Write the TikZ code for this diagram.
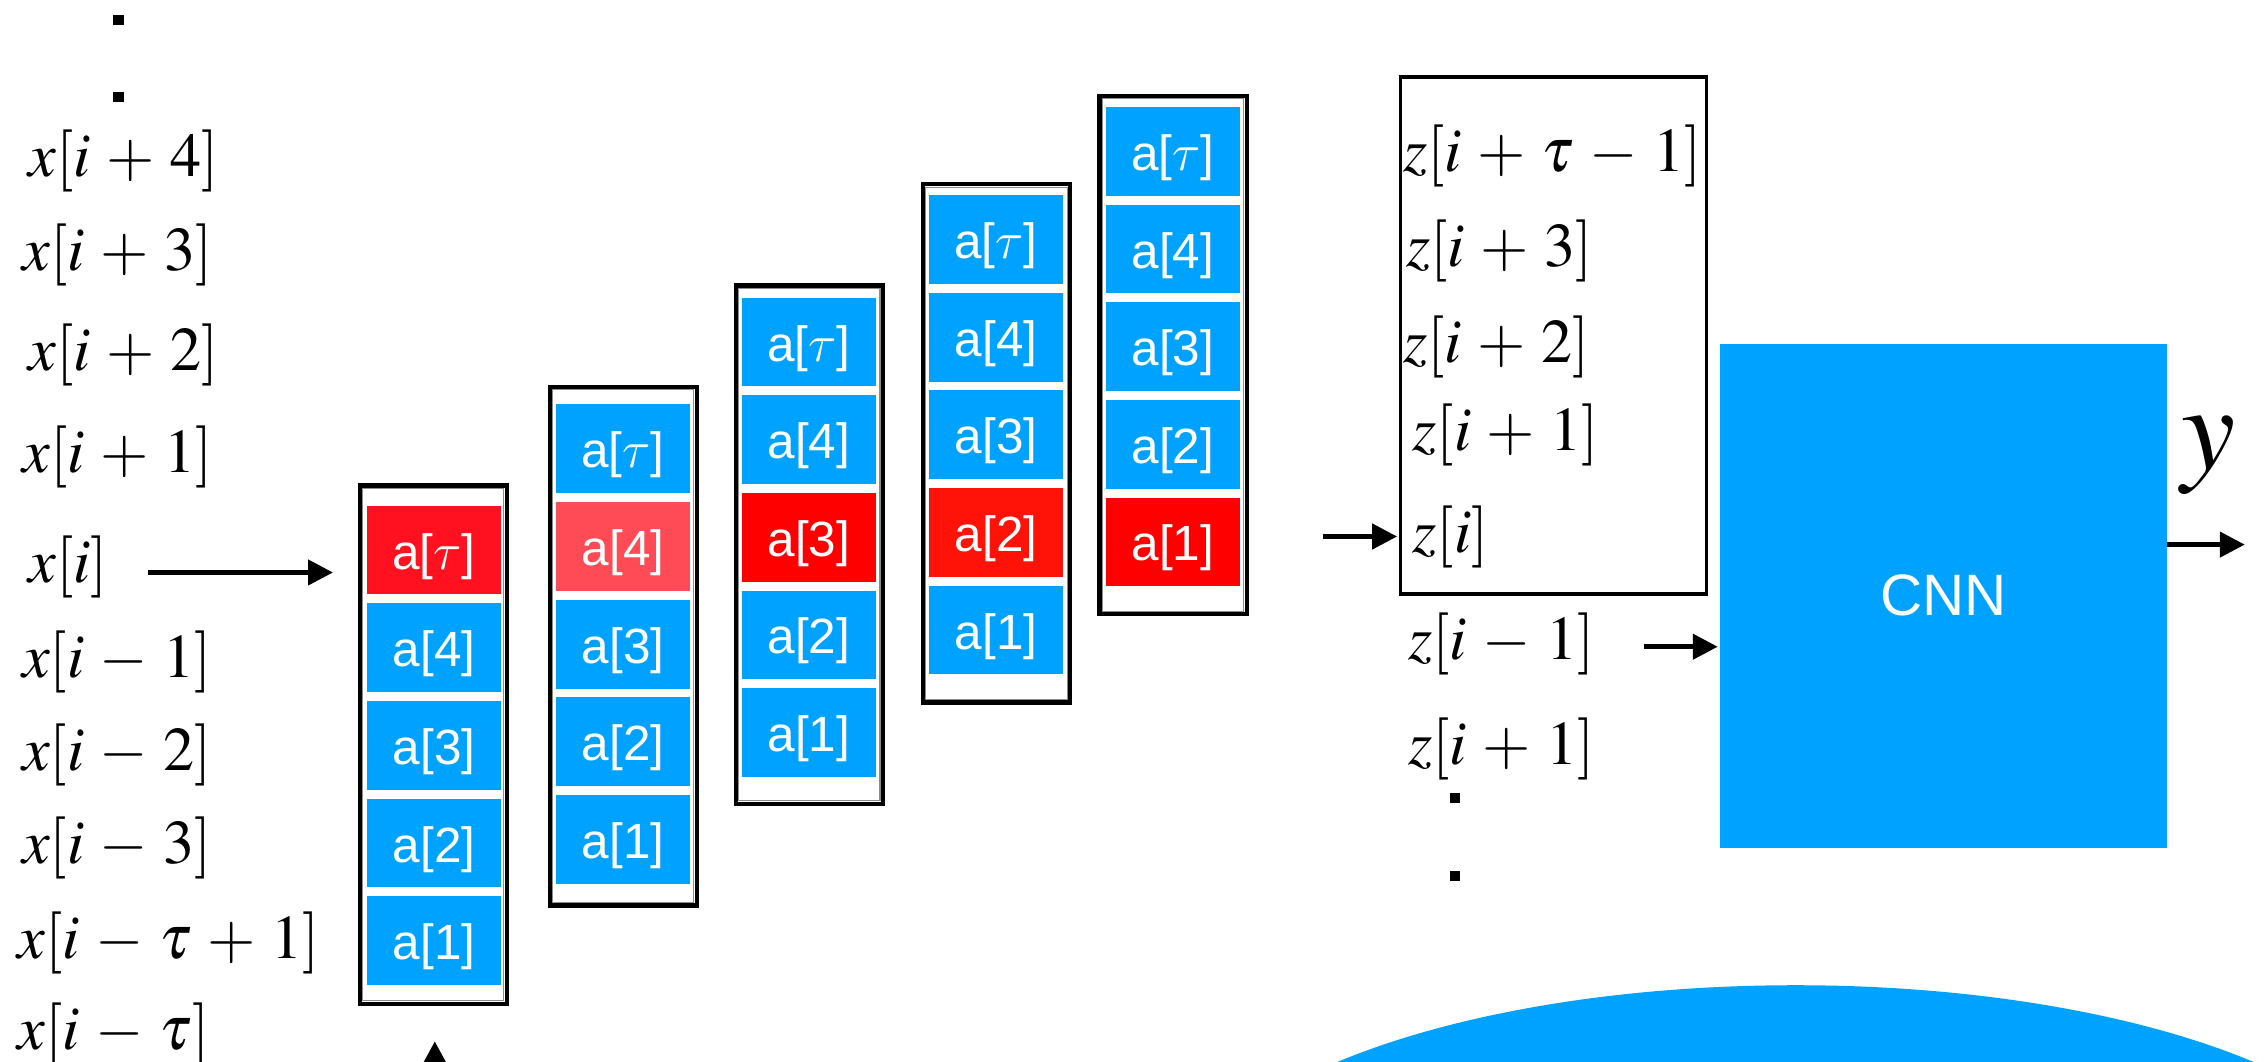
\documentclass[tikz,border=0pt]{standalone}
\usepackage{mathptmx}
\usepackage[no-math]{fontspec}
\newfontfamily\helv{Liberation Sans}
\DeclareSymbolFont{lmlet}{OML}{lmm}{m}{it}
\DeclareMathSymbol{\lmtau}{\mathord}{lmlet}{"1C}
\usetikzlibrary{arrows.meta,calc}
\definecolor{kblue}{HTML}{00A2FF}
\definecolor{redA}{HTML}{FF111F}
\definecolor{redB}{HTML}{FF4B55}
\definecolor{redC}{HTML}{FF0000}
\definecolor{redD}{HTML}{FF1308}
\definecolor{redE}{HTML}{FF0000}
\medmuskip=4.5mu
\begin{document}
\begin{tikzpicture}[x=0.02cm,y=-0.02cm,
  lab/.style={anchor=west, inner sep=0pt, outer sep=0pt, font=\fontsize{24.5}{28}\selectfont},
  cell/.style={fill=kblue, minimum width=1.86cm, minimum height=1.23cm, inner sep=0pt, outer sep=0pt,
    text=white, text height=19pt, text depth=4pt, font=\helv\fontsize{19.5}{22}\selectfont},
  colbox/.style={draw=black, line width=1.7pt, minimum width=2.04cm, minimum height=7.18cm, inner sep=0pt, outer sep=0pt},
  arr/.style={line width=1.8pt, -{Triangle[length=9.8pt,width=9.8pt]}},
]
\useasboundingbox (0,0) rectangle (1568,735);
\clip (0,0) rectangle (1568,735);

% bottom ellipse
\fill[kblue] (1243,840) ellipse [x radius=8.48cm, y radius=3.16cm];

% left labels
\fill (78.5,10.7) rectangle (86,17.2);
\fill (78.5,63.9) rectangle (86,70.3);
\node[lab] (xp4) at (19.6,111.3) {$x[i+4]$};
\node[lab] (xp3) at (15.7,176.7) {$x[i+3]$};
\node[lab] (xp2) at (19.6,245.8) {$x[i+2]$};
\node[lab] (xp1) at (15.7,316.4) {$x[i+1]$};
\node[lab] (xi)  at (19.8,392.5) {$x[i]$};
\node[lab] (xm1) at (15.3,458) {$x[i-1]$};
\node[lab] (xm2) at (15.3,522.7) {$x[i-2]$};
\node[lab] (xm3) at (15.3,587.3) {$x[i-3]$};
\node[lab] (xmt1) at (12.4,652.6) {$x[i-\tau+1]$};
\node[lab] (xmt) at (12.4,715.6) {$x[i-\tau]$};

% column boxes
\node[colbox] (b1) at (300,515.5) {};
\node[colbox] (b2) at (431.5,447.3) {};
\node[colbox] (b3) at (560.3,377) {};
\node[colbox] (b4) at (689.8,306.9) {};
\node[colbox] (b5) at (812.2,245.8) {};
\foreach \b in {b1,b2,b3,b4,b5}{
  \draw[black!45, line width=0.4pt] ($(\b.north west)+(2.1,2.1)$) rectangle ($(\b.south east)-(2.1,2.1)$);
}

% cells
\foreach \col/\cx/\top/\hc in {1/300.5/350/redA, 2/431.3/280/redB, 3/560/206/redC, 4/689.5/135/redD, 5/812/74/redE}{
  \foreach \k/\t in {0/{a[$\lmtau$]},1/{a[4]},2/{a[3]},3/{a[2]},4/{a[1]}}{
    \pgfmathtruncatemacro\hk{\col-1}
    \ifnum\k=\hk\relax\def\fc{\hc}\else\def\fc{kblue}\fi
    \node[cell, fill=\fc] (c\col-\k) at (\cx,{\top+30.75+\k*67.6}) {\t};
  }
}

% z box and labels
\node[draw, line width=1.3pt, minimum width=4.234cm, minimum height=7.16cm, inner sep=0pt, outer sep=0pt] (zbox) at (1075.5,232.2) {};
\node[lab] (zpt) at (971.5,108.2) {$z[i+\tau-1]$};
\node[lab] (zp3) at (973.7,174) {$z[i+3]$};
\node[lab] (zp2) at (971.5,240) {$z[i+2]$};
\node[lab] (zp1) at (978,301) {$z[i+1]$};
\node[lab] (zi)  at (978,372) {$z[i]$};
\node[lab] (zm1) at (975,446) {$z[i-1]$};
\node[lab] (zq1) at (975,518.6) {$z[i+1]$};
\fill (1004,549) rectangle (1011,556);
\fill (1004,603) rectangle (1011,610);

% CNN
\node[fill=kblue, minimum width=6.188cm, minimum height=6.98cm, inner sep=0pt, outer sep=0pt,
  text=white, font=\helv\fontsize{23}{26}\selectfont] (cnn) at (1345.3,412.5) {CNN};
\node[inner sep=0pt, font=\fontsize{48}{52}\selectfont] (yl) at (1529,315.5) {$y$};

% arrows
\coordinate (xs) at (102.6,396.3);
\draw[arr, shorten >=0.37cm] (xs) -- (xs -| b1.west);
\coordinate (zs) at (915.6,371.4);
\draw[arr, shorten >=0.05cm] (zs) -- (zs -| zbox.west);
\coordinate (zs2) at (1138.4,447.7);
\draw[arr, shorten >=0.03cm] (zs2) -- (zs2 -| cnn.west);
\coordinate (ye) at (1554,377);
\draw[arr] (cnn.east |- ye) -- (ye);
\coordinate (bs) at (301,800);
\draw[arr, shorten >=0.52cm, -{Triangle[length=12pt,width=12.5pt]}] (bs) -- (bs |- b1.south);
\end{tikzpicture}
\end{document}
